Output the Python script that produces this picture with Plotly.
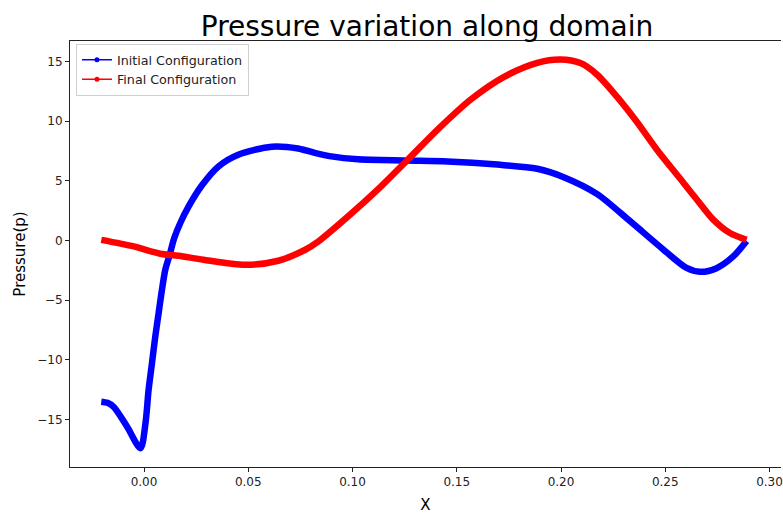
import plotly.graph_objects as go

# Initial configuration (blue)
x_initial = [-0.0205, -0.0175, -0.0145, -0.0081, -0.0017, 0.0007, 0.0022, 0.0038, 0.0054,
             0.0070, 0.0086, 0.0102, 0.0123, 0.0145, 0.0175, 0.0214, 0.0277, 0.0357,
             0.0452, 0.0612, 0.0739, 0.0819, 0.0898, 0.1026, 0.1264, 0.1456, 0.1695,
             0.1886, 0.2013, 0.2172, 0.2332, 0.2490, 0.2602, 0.2666, 0.2746, 0.2826, 0.2890]
p_initial = [-13.5, -13.6, -13.95, -15.6, -17.4, -15.3, -12.5, -10.3, -8.05,
             -6.09, -4.13, -2.46, -1.2, 0.2, 1.5, 2.85, 4.6, 6.2,
             7.18, 7.85, 7.7, 7.33, 7.04, 6.8, 6.7, 6.62, 6.35,
             6.0, 5.3, 3.9, 1.6, -0.75, -2.3, -2.62, -2.32, -1.34, -0.05]

# Final configuration (red)
x_final = [-0.0205, -0.0049, 0.0078, 0.0166, 0.0285, 0.0484, 0.0644, 0.0771, 0.0835,
           0.0978, 0.1137, 0.1265, 0.1408, 0.1567, 0.1727, 0.1886, 0.1997, 0.2093,
           0.2172, 0.2270, 0.2365, 0.2460, 0.2570, 0.2650, 0.2730, 0.2810, 0.2890]
p_final = [0.05, -0.5, -1.11, -1.28, -1.62, -2.04, -1.7, -0.8, -0.1,
           2.0, 4.53, 6.76, 9.28, 11.8, 13.7, 14.87, 15.15, 14.85,
           13.9, 12.0, 9.9, 7.6, 5.2, 3.45, 1.74, 0.62, 0.05]

series_names = ["Initial Configuration", "Final Configuration"]
series_colors = ["#0000ff", "#ff0000"]

x_ticks = [0.00, 0.05, 0.10, 0.15, 0.20, 0.25, 0.30]
y_ticks = [-15, -10, -5, 0, 5, 10, 15]

FONT = "DejaVu Sans"

fig = go.Figure()
for xs, ps, name, col in [(x_initial, p_initial, series_names[0], series_colors[0]),
                          (x_final, p_final, series_names[1], series_colors[1])]:
    fig.add_trace(go.Scatter(x=xs, y=ps, mode="lines", name=name, showlegend=False,
                             line=dict(color=col, width=6.5, shape="spline", smoothing=0.8),
                             hoverinfo="skip"))
for name, col in zip(series_names, series_colors):
    fig.add_trace(go.Scatter(x=[None], y=[None], mode="lines+markers", name=name,
                             line=dict(color=col, width=1.5),
                             marker=dict(color=col, size=5)))

axis_common = dict(showline=True, linecolor="#222", linewidth=1,
                   ticks="outside", ticklen=4, tickcolor="#222", tickwidth=1,
                   showgrid=False, zeroline=False,
                   tickfont=dict(family=FONT, size=12, color="#222"))

fig.update_layout(
    width=783, height=514,
    margin=dict(l=70, r=0, t=41, b=47),
    paper_bgcolor="white", plot_bgcolor="white",
    title=dict(text="Pressure variation along domain", x=(70 + 784) / 2 / 783, xanchor="center",
               yref="container", y=1 - 36 / 514, yanchor="bottom",
               font=dict(family=FONT, size=28, color="black")),
    xaxis=dict(range=[-0.0355, 0.3055], tickvals=x_ticks, tickformat=".2f", mirror=True,
               ticklabeloverflow="allow",
               title=dict(text="X", font=dict(family=FONT, size=15, color="black"), standoff=11),
               **axis_common),
    yaxis=dict(range=[-18.97, 16.70], tickvals=y_ticks, mirror=False,
               title=dict(text="Pressure(p)", font=dict(family=FONT, size=15, color="black"), standoff=8),
               **axis_common),
    legend=dict(x=0.0084, y=0.993, xanchor="left", yanchor="top",
                bgcolor="rgba(255,255,255,0.8)", bordercolor="#d0d0d0", borderwidth=1,
                font=dict(family=FONT, size=12.7, color="#222"), tracegroupgap=0),
    showlegend=True,
)

fig.write_html("out.html")
